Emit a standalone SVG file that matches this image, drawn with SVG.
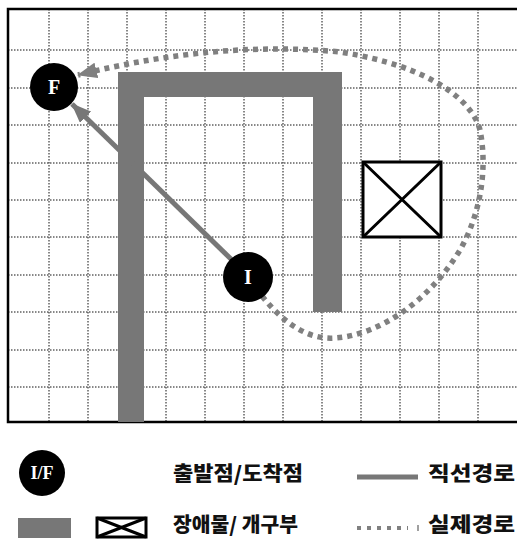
<svg xmlns="http://www.w3.org/2000/svg" width="517" height="540" viewBox="0 0 517 540">
<style>
.grid{stroke:#111;stroke-width:1;stroke-dasharray:1.5,1.5;fill:none}
.wall{fill:#777}
.node circle{fill:#000}
.node text{fill:#fff;font-family:"Liberation Serif",serif;font-weight:bold;font-size:20px;text-anchor:middle}
.lbl{font-family:"Noto Sans CJK KR",sans-serif;font-weight:900;font-size:20px;fill:#111}
.straight{stroke:#777;stroke-width:5;fill:none}
.actual{stroke:#808080;stroke-width:5.5;fill:none;stroke-dasharray:5,5}
.xbox{fill:#fff;stroke:#000;stroke-width:3}
</style>
<defs>
<marker id="ah" viewBox="0 0 20 16" refX="19" refY="8" markerWidth="20" markerHeight="16" orient="auto" markerUnits="userSpaceOnUse">
<path d="M0,0 L20,8 L0,16 z" fill="#777"/>
</marker>
<marker id="ah2" viewBox="0 0 20 16" refX="19" refY="8" markerWidth="20" markerHeight="16" orient="auto" markerUnits="userSpaceOnUse">
<path d="M0,0 L20,8 L0,16 z" fill="#808080"/>
</marker>
</defs>
<rect x="0" y="0" width="517" height="540" fill="#fff"/>
<g id="grid">
<path class="grid" d="M49,9V422M88,9V422M127,9V422M166,9V422M205,9V422M244,9V422M283,9V422M322,9V422M361,9V422M400,9V422M439,9V422M478,9V422"/>
<path class="grid" d="M8,50H517M8,88H517M8,125H517M8,163H517M8,200H517M8,237H517M8,275H517M8,312H517M8,350H517M8,387H517"/>
<path d="M519,9H8V422H519" fill="none" stroke="#000" stroke-width="2.5"/>
</g>
<g id="obstacle">
<path class="wall" d="M118,72H342V312H313V97H144V422H118Z"/>
</g>
<g id="opening">
<rect class="xbox" x="363" y="162" width="78" height="75"/>
<path d="M363,162L441,237M441,162L363,237" stroke="#000" stroke-width="3"/>
</g>
<g id="connectors">
<path class="straight" d="M234,262L72,104" marker-end="url(#ah)"/>
<path class="actual" d="M262,296C285,325 310,340 335,338C380,335 430,300 460,250C480,215 488,170 480,130C472,100 430,66 340,52C260,44 170,52 78,75" marker-end="url(#ah2)"/>
</g>
<g id="node-F" class="node">
<circle cx="54" cy="87" r="24"/>
<text x="54" y="94">F</text>
</g>
<g id="node-I" class="node">
<circle cx="248" cy="277" r="25"/>
<text x="248" y="284">I</text>
</g>
<g id="legend">
<g id="legend-if" class="node">
<circle cx="42" cy="473" r="23"/>
<text x="42" y="479" style="font-size:18px">I/F</text>
</g>
<text class="lbl" x="173" y="481" textLength="130" lengthAdjust="spacingAndGlyphs">출발점/도착점</text>
<path class="straight" d="M357,477H418"/>
<text class="lbl" x="428" y="481" textLength="87" lengthAdjust="spacingAndGlyphs">직선경로</text>
<rect class="wall" x="18" y="518" width="53" height="20"/>
<rect x="97" y="518" width="49" height="19" fill="#fff" stroke="#000" stroke-width="3"/>
<path d="M97,518L146,537M146,518L97,537" stroke="#000" stroke-width="3"/>
<text class="lbl" x="173" y="532" textLength="125" lengthAdjust="spacingAndGlyphs">장애물/ 개구부</text>
<path class="actual" d="M357,528H408" style="stroke-width:4;stroke-dasharray:4,6"/>
<path d="M418,525V531" stroke="#808080" stroke-width="1.5"/>
<text class="lbl" x="428" y="532" textLength="87" lengthAdjust="spacingAndGlyphs">실제경로</text>
</g>
</svg>
